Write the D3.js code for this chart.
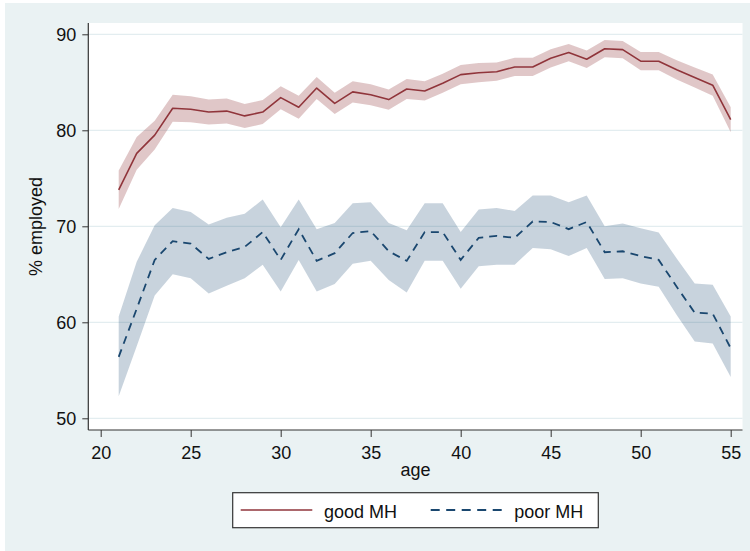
<!DOCTYPE html>
<html>
<head>
<meta charset="utf-8">
<script src="https://cdn.jsdelivr.net/npm/d3@7/dist/d3.min.js"></script>
<style>
  html, body { margin: 0; padding: 0; background: #ffffff; }
  svg { display: block; font-family: "Liberation Sans", Arial, Helvetica, sans-serif; }
</style>
</head>
<body>
<svg id="chart" width="750" height="551"></svg>
<script>
// ---- data ----
const ages = [21,22,23,24,25,26,27,28,29,30,31,32,33,34,35,36,37,38,39,40,41,42,43,44,45,46,47,48,49,50,51,52,53,54,55];

const goodMH   = [73.8,77.6,79.5,82.3,82.2,81.9,82.0,81.5,81.9,83.4,82.4,84.4,82.8,84.0,83.7,83.2,84.3,84.1,84.9,85.8,86.0,86.1,86.6,86.6,87.5,88.1,87.4,88.5,88.4,87.2,87.2,86.3,85.5,84.7,81.1];
const goodLo   = [71.8,75.9,78.0,80.9,80.85,80.6,80.7,80.25,80.65,82.2,81.2,83.25,81.7,82.9,82.6,82.15,83.25,83.1,83.9,84.8,85.0,85.15,85.65,85.65,86.55,87.2,86.5,87.6,87.5,86.25,86.25,85.3,84.45,83.6,79.8];
const goodHi   = [75.8,79.3,81.0,83.7,83.55,83.2,83.3,82.75,83.15,84.6,83.6,85.55,83.9,85.1,84.8,84.25,85.35,85.1,85.9,86.8,87.0,87.05,87.55,87.55,88.45,89.0,88.3,89.4,89.3,88.15,88.15,87.3,86.55,85.8,82.4];

const poorMH   = [56.4,61.4,66.5,68.45,68.2,66.6,67.3,67.85,69.4,66.5,69.7,66.4,67.2,69.3,69.5,67.4,66.4,69.4,69.4,66.5,68.8,69.0,68.8,70.5,70.45,69.7,70.45,67.3,67.4,66.9,66.5,63.7,61.0,60.9,57.3];
const poorLo   = [52.3,57.5,62.8,65.0,64.6,63.0,63.8,64.6,66.0,63.2,66.5,63.2,64.0,66.1,66.4,64.4,63.1,66.4,66.4,63.5,65.85,66.0,66.0,67.75,67.6,66.9,67.75,64.5,64.6,64.05,63.7,60.75,58.0,57.8,54.3];
const poorHi   = [60.6,66.3,70.1,71.9,71.5,70.2,70.9,71.3,72.8,69.9,72.8,69.7,70.35,72.4,72.5,70.35,69.6,72.4,72.4,69.4,71.75,71.9,71.6,73.2,73.2,72.5,73.2,70.0,70.3,69.8,69.35,66.65,64.05,63.9,60.6];

const xTicks = [20,25,30,35,40,45,50,55];
const yTicks = [50,60,70,80,90];
const seriesNames = ["good MH", "poor MH"];
const xTitle = "age";
const yTitle = "% employed";

// ---- layout ----
const svg = d3.select("#chart");
const plot = { left: 88.3, right: 742.5, top: 23, bottom: 430 };
const x = d3.scaleLinear().domain([20, 55]).range([100.7, 730.7]);
const y = d3.scaleLinear().domain([50, 90]).range([418.3, 34.3]);

const colGood = "#90353B", colPoor = "#1A476F";

// background
svg.append("rect").attr("x", 5).attr("y", 3).attr("width", 745).attr("height", 548).attr("fill", "#EAF2F3");
svg.append("rect").attr("x", plot.left).attr("y", plot.top)
  .attr("width", plot.right - plot.left).attr("height", plot.bottom - plot.top).attr("fill", "#ffffff");

// gridlines
svg.append("g").selectAll("line").data(yTicks).join("line")
  .attr("x1", plot.left).attr("x2", plot.right)
  .attr("y1", d => y(d)).attr("y2", d => y(d))
  .attr("stroke", "#E3EDF0").attr("stroke-width", 1.3);

svg.append("clipPath").attr("id", "clip").append("rect")
  .attr("x", plot.left).attr("y", plot.top).attr("width", plot.right - plot.left).attr("height", plot.bottom - plot.top);
const g = svg.append("g").attr("clip-path", "url(#clip)");

const goodRows = ages.map((a, i) => ({ a, v: goodMH[i], lo: goodLo[i], hi: goodHi[i] }));
const poorRows = ages.map((a, i) => ({ a, v: poorMH[i], lo: poorLo[i], hi: poorHi[i] }));

const area = d3.area().x(d => x(d.a)).y0(d => y(d.lo)).y1(d => y(d.hi));
const line = d3.line().x(d => x(d.a)).y(d => y(d.v));

g.append("path").datum(goodRows).attr("d", area).attr("fill", colGood).attr("fill-opacity", 0.28);
g.append("path").datum(poorRows).attr("d", area).attr("fill", colPoor).attr("fill-opacity", 0.24);

g.append("path").datum(goodRows).attr("d", line).attr("fill", "none")
  .attr("stroke", colGood).attr("stroke-width", 1.6).attr("stroke-linejoin", "round");
g.append("path").datum(poorRows).attr("d", line).attr("fill", "none")
  .attr("stroke", colPoor).attr("stroke-width", 1.8).attr("stroke-dasharray", "8,6");

// axes
const xAxis = d3.axisBottom(x).tickValues(xTicks).tickSize(7).tickSizeOuter(0).tickPadding(9.5);
const yAxis = d3.axisLeft(y).tickValues(yTicks).tickSize(6).tickSizeOuter(0).tickPadding(6);

const gx = svg.append("g").attr("transform", `translate(0,${plot.bottom})`).call(xAxis);
const gy = svg.append("g").attr("transform", `translate(${plot.left},0)`).call(yAxis);
[gx, gy].forEach(a => {
  a.select(".domain").remove();
  a.selectAll(".tick line").attr("stroke", "#333").attr("stroke-width", 1);
  a.selectAll(".tick text").attr("fill", "#111").style("font-size", "18px")
    .style("font-family", '"Liberation Sans", Arial, sans-serif');
});
// axis lines
svg.append("line").attr("x1", plot.left).attr("x2", plot.left).attr("y1", plot.top).attr("y2", plot.bottom)
  .attr("stroke", "#333").attr("stroke-width", 1.2);
svg.append("line").attr("x1", plot.left).attr("x2", plot.right).attr("y1", plot.bottom).attr("y2", plot.bottom)
  .attr("stroke", "#333").attr("stroke-width", 1.2);

// axis titles
svg.append("text").attr("x", (plot.left + plot.right) / 2).attr("y", 476)
  .attr("text-anchor", "middle").attr("fill", "#111").style("font-size", "18px").text(xTitle);
svg.append("text").attr("transform", `translate(41.5,${(plot.top + plot.bottom) / 2}) rotate(-90)`)
  .attr("text-anchor", "middle").attr("fill", "#111").style("font-size", "18px").text(yTitle);

// legend
const lg = svg.append("g");
lg.append("rect").attr("x", 232.7).attr("y", 492.7).attr("width", 365.6).attr("height", 35)
  .attr("fill", "#ffffff").attr("stroke", "#333").attr("stroke-width", 1.2);
lg.append("line").attr("x1", 240.7).attr("x2", 312.3).attr("y1", 510).attr("y2", 510)
  .attr("stroke", colGood).attr("stroke-width", 1.6);
lg.append("text").attr("x", 324).attr("y", 517.5).attr("fill", "#111").style("font-size", "18px").text(seriesNames[0]);
lg.append("line").attr("x1", 430.7).attr("x2", 504).attr("y1", 510).attr("y2", 510)
  .attr("stroke", colPoor).attr("stroke-width", 1.8).attr("stroke-dasharray", "9,6.5");
lg.append("text").attr("x", 514.3).attr("y", 517.5).attr("fill", "#111").style("font-size", "18px").text(seriesNames[1]);
</script>
</body>
</html>
